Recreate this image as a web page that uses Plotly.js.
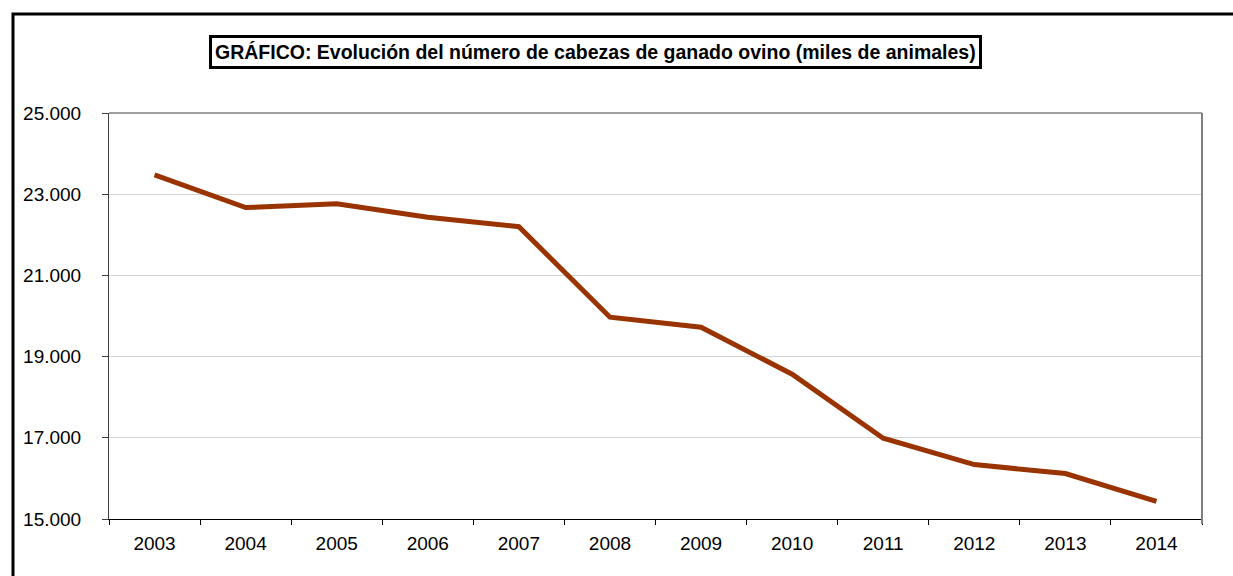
<!DOCTYPE html>
<html>
<head>
<meta charset="utf-8">
<script src="https://cdn.plot.ly/plotly-3.0.1.min.js"></script>
<style>
  html, body { margin: 0; padding: 0; background: #ffffff; }
  #chart { width: 1233px; height: 576px; }
</style>
</head>
<body>
<div id="chart"></div>
<script>
// Data (miles de animales)
const years = ['2003', '2004', '2005', '2006', '2007', '2008',
               '2009', '2010', '2011', '2012', '2013', '2014'];
const ovino = [23475, 22670, 22765, 22430, 22200, 19970,
               19725, 18566, 16990, 16340, 16120, 15432];
const yTicks = [15000, 17000, 19000, 21000, 23000, 25000];
const chartTitle = 'GRÁFICO: Evolución del número de cabezas de ganado ovino (miles de animales)';

// plot area in pixels (for placing the frame / title box in paper coords)
const PL = 109, PR = 1202, PT = 113, PB = 519;
const px = x => (x - PL) / (PR - PL);
const py = y => (PB - y) / (PB - PT);

const trace = {
    type: 'scatter',
    mode: 'lines',
    x: years,
    y: ovino,
    line: { color: '#993300', width: 5 },
    hoverinfo: 'x+y',
    showlegend: false
};

const axisFont = { family: 'Liberation Sans, Arial, sans-serif', size: 19, color: '#000000' };

const layout = {
    width: 1233,
    height: 576,
    margin: { l: PL, r: 1233 - PR, t: PT, b: 576 - PB },
    paper_bgcolor: '#ffffff',
    plot_bgcolor: '#ffffff',
    separators: ',.',
    font: axisFont,
    xaxis: {
        type: 'category',
        range: [-0.5, years.length - 0.5],
        tickson: 'boundaries',
        ticks: 'outside',
        ticklen: 5,
        tickcolor: '#000000',
        showline: true,
        linecolor: '#000000',
        linewidth: 1,
        showgrid: false,
        tickfont: axisFont,
        ticklabelstandoff: 7,
        fixedrange: true
    },
    yaxis: {
        range: [15000, 25000],
        tickvals: yTicks,
        tickformat: ',d',
        ticks: 'outside',
        ticklen: 6,
        tickcolor: '#404040',
        showline: true,
        linecolor: '#404040',
        linewidth: 1,
        showgrid: true,
        gridcolor: '#d4d4d4',
        gridwidth: 1,
        zeroline: false,
        tickfont: axisFont,
        ticklabelstandoff: 17,
        fixedrange: true
    },
    shapes: [
        // top of plot area
        { type: 'line', xref: 'paper', yref: 'paper', x0: 0, x1: 1, y0: 1, y1: 1,
          line: { color: '#404040', width: 1 } },
        // right of plot area
        { type: 'line', xref: 'paper', yref: 'paper', x0: 1, x1: 1, y0: py(524), y1: 1,
          line: { color: '#808080', width: 2 } },
        // outer chart frame (runs off the right and bottom edges)
        { type: 'rect', xref: 'paper', yref: 'paper',
          x0: px(13), x1: px(1260), y0: py(14), y1: py(620),
          line: { color: '#000000', width: 3 } }
    ],
    annotations: [
        {
            xref: 'paper', yref: 'paper',
            x: px(595.5), y: py(52),
            xanchor: 'center', yanchor: 'middle',
            text: '<b>' + chartTitle + '</b>',
            showarrow: false,
            font: { family: 'Liberation Sans, Arial, sans-serif', size: 19.5, color: '#000000' },
            bgcolor: '#ffffff',
            bordercolor: '#000000',
            borderwidth: 3,
            borderpad: 3
        }
    ]
};

Plotly.newPlot('chart', [trace], layout, { displayModeBar: false, staticPlot: true });
</script>
</body>
</html>
